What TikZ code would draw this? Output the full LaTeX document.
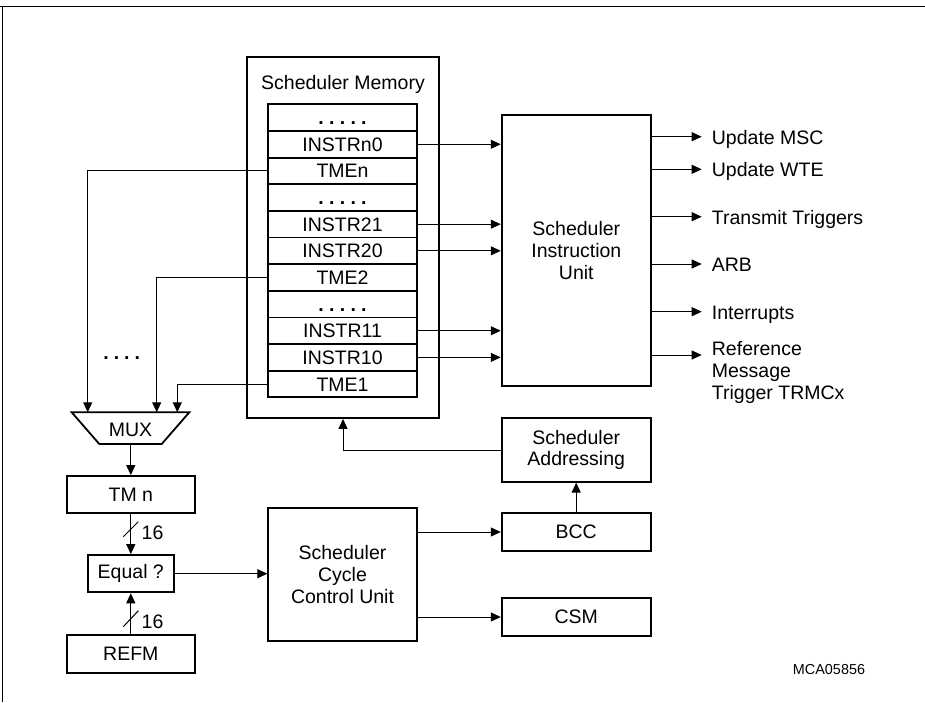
\documentclass[tikz,border=0pt]{standalone}
\usepackage{fontspec}
\setmainfont{Liberation Sans}
\usetikzlibrary{arrows.meta,calc}
\newcommand{\fivedots}{\bfseries .\kern5.3pt.\kern5.3pt.\kern5.3pt.\kern5.3pt.}
\newcommand{\fourdots}{\bfseries .\kern5pt.\kern5pt.\kern5pt.}
\begin{document}
\begin{tikzpicture}[x=1pt,y=-1pt,
  box/.style={draw,line width=1.8pt,inner sep=0pt,align=center,font=\fontsize{19.5}{21.7}\selectfont},
  row/.style={box,minimum width=148.4pt,minimum height=26.6pt,text height=14pt,text depth=0pt},
  lab/.style={inner sep=0pt,font=\fontsize{19.5}{21.7}\selectfont},
  conn/.style={line width=1pt,-{Triangle[length=10pt,width=9pt]}},
  wire/.style={line width=1pt}]
\useasboundingbox (0,0) rectangle (925,702);
% frame
\draw[line width=1.2pt] (0,6.7) -- (925,6.7);
\draw[line width=1.2pt] (2.3,6.7) -- (2.3,702);

% scheduler memory
\node[box,minimum width=192pt,minimum height=361pt] (mem) at (343,237.5) {};
\node[lab,anchor=base] (memt) at (343,89) {Scheduler Memory};
\foreach \i/\t in {1/{\fivedots},2/INSTRn0,3/TMEn,4/{\fivedots},5/INSTR21,6/INSTR20,7/TME2,8/{\fivedots},9/INSTR11,10/INSTR10,11/TME1}{
  \node[row] (r\i) at (342.5,{104.3+26.64*(\i-0.5)}) {\t};
}

% instruction unit
\node[box,minimum width=149.3pt,minimum height=271pt] (siu) at (576.3,250.5) {Scheduler\\Instruction\\Unit};
\foreach \i in {2,5,6,9,10}{
  \draw[conn] (r\i.east) -- (r\i.east -| siu.west);
}

% outputs
\coordinate (o1) at (701.7,136.7);
\coordinate (o2) at (701.7,169.3);
\coordinate (o3) at (701.7,216.7);
\coordinate (o4) at (701.7,264);
\coordinate (o5) at (701.7,311.7);
\coordinate (o6) at (701.7,355);
\foreach \k in {1,...,6}{
  \draw[conn] (o\k -| siu.east) -- (o\k);
}
\node[lab,anchor=base west] (l1) at (711.7,144.3) {Update MSC};
\node[lab,anchor=base west] (l2) at (711.7,176.9) {Update WTE};
\node[lab,anchor=base west] (l3) at (711.7,224.3) {Transmit Triggers};
\node[lab,anchor=base west] (l4) at (711.7,271.6) {ARB};
\node[lab,anchor=base west] (l5) at (711.7,319.3) {Interrupts};
\node[lab,anchor=north west,align=left] (l6) at (711.7,341.5) {Reference\\Message\\Trigger TRMCx};

% MUX
\draw[line width=1.8pt] (71.7,412.3) -- (189.3,412.3) -- (161.7,444) -- (99.3,444) -- cycle;
\node[lab] (mux) at (130.5,429.5) {MUX};
\coordinate (m1) at (87.7,412.3);
\coordinate (m2) at (156.7,412.3);
\coordinate (m3) at (177.3,412.3);
\coordinate (mb) at (130.8,444);
\draw[conn] (r3.west) -| (m1);
\draw[conn] (r7.west) -| (m2);
\draw[conn] (r11.west) -| (m3);
\node[lab,anchor=base] (dots) at (121.7,359) {\fourdots};

% left column
\node[box,minimum width=128.3pt,minimum height=37.3pt] (tmn) at (130.8,494.7) {TM n};
\node[box,minimum width=85.6pt,minimum height=37.3pt] (eq) at (130.8,573.7) {Equal ?};
\node[box,minimum width=128.3pt,minimum height=37.7pt] (refm) at (130.8,653.8) {REFM};
\draw[conn] (mb) -- (tmn.north);
\draw[conn] (tmn.south) -- (eq.north);
\draw[conn] (refm.north) -- (eq.south);
\draw[wire] (123.3,536.7) -- (138.3,521.7);
\draw[wire] (123.3,626.7) -- (138.3,610.7);
\node[lab,anchor=base west] (n1) at (141.5,539.5) {16};
\node[lab,anchor=base west] (n2) at (141.5,628.3) {16};

% cycle control
\node[box,minimum width=148.4pt,minimum height=132.4pt] (sccu) at (342.5,574.5) {Scheduler\\Cycle\\Control Unit};
\node[box,minimum width=149pt,minimum height=37.4pt] (bcc) at (576.2,532) {BCC};
\node[box,minimum width=149pt,minimum height=37.4pt] (csm) at (576.2,617) {CSM};
\node[box,minimum width=149pt,minimum height=63.4pt] (sa) at (576.2,450) {Scheduler\\Addressing};
\draw[conn] (eq.east) -- (eq.east -| sccu.west);
\draw[conn] (sccu.east |- bcc.west) -- (bcc.west);
\draw[conn] (sccu.east |- csm.west) -- (csm.west);
\draw[conn] (bcc.north) -- (sa.south);
\draw[conn] (sa.west) -| (mem.south);

\node[inner sep=0pt,anchor=base,font=\fontsize{14.4}{16}\selectfont] (id) at (829,674.3) {MCA05856};
\end{tikzpicture}
\end{document}
